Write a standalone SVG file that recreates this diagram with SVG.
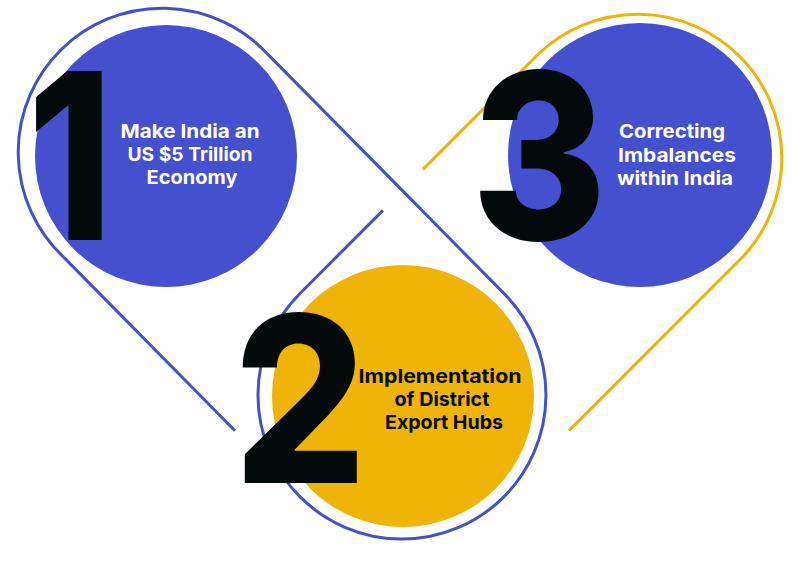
<svg xmlns="http://www.w3.org/2000/svg" width="800" height="568" viewBox="0 0 800 568">
<style>
.out{fill:none;stroke-width:3;stroke-linecap:butt}
.blue{stroke:#4450CE}
.yel{stroke:#F0B406}
.num{font-family:Inter,"Liberation Sans",sans-serif;font-weight:800;fill:#030A0A;text-anchor:middle}
.lbl{font-family:Inter,"Liberation Sans",sans-serif;font-weight:700;font-size:19px;text-anchor:middle}
</style>
<rect width="800" height="568" fill="#FFFFFF"/>
<g id="connectors">
<path class="out blue" d="M63.6,257.1 A144,144 0 1 1 268.4,54.9 L504.4,293.9 A144,144 0 1 1 300.2,293.2 L383,210.4"/>
<path class="out blue" d="M63.6,257.1 L235,430.7"/>
<path class="out yel" d="M423,169.4 L538.2,54.2 A144,144 0 0 1 741.8,257.8 L569,430.6"/>
</g>
<g id="node1">
<circle cx="166" cy="156" r="131" fill="#4450CE"/>
<text class="num" transform="translate(70,240) scale(0.83,1)" x="0" y="0" font-size="232">1</text>
<text class="lbl" fill="#FFFFFF"><tspan x="190" y="138" textLength="139" lengthAdjust="spacingAndGlyphs">Make India an</tspan><tspan x="190" y="161" textLength="125" lengthAdjust="spacingAndGlyphs">US $5 Trillion</tspan><tspan x="192" y="184" textLength="91" lengthAdjust="spacingAndGlyphs">Economy</tspan></text>
</g>
<g id="node2">
<circle cx="403" cy="396" r="131" fill="#F0B406"/>
<text class="num" transform="translate(300,483) scale(0.9,1)" x="0" y="0" font-size="232">2</text>
<text class="lbl" fill="#030A0A"><tspan x="440" y="383" textLength="163" lengthAdjust="spacingAndGlyphs">Implementation</tspan><tspan x="442" y="406" textLength="95" lengthAdjust="spacingAndGlyphs">of District</tspan><tspan x="444" y="429" textLength="118" lengthAdjust="spacingAndGlyphs">Export Hubs</tspan></text>
</g>
<g id="node3">
<circle cx="640" cy="155" r="132" fill="#4450CE"/>
<text class="num" transform="translate(539,240) scale(0.89,1)" x="0" y="0" font-size="232">3</text>
<text class="lbl" fill="#FFFFFF"><tspan x="672" y="138" textLength="106" lengthAdjust="spacingAndGlyphs">Correcting</tspan><tspan x="677" y="162" textLength="118" lengthAdjust="spacingAndGlyphs">Imbalances</tspan><tspan x="675" y="185" textLength="116" lengthAdjust="spacingAndGlyphs">within India</tspan></text>
</g>
</svg>
